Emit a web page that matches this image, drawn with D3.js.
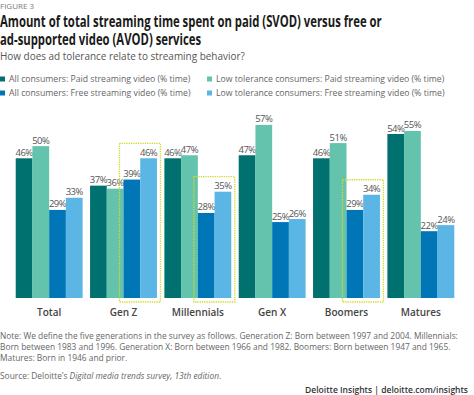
<!DOCTYPE html>
<html>
<head>
<meta charset="utf-8">
<script src="https://cdn.jsdelivr.net/npm/d3@7"></script>
<style>
  body { margin: 0; background: #fff; }
  svg text { font-family: "Open Sans", sans-serif; }
</style>
</head>
<body>
<script>
// data
const categories = ['Total', 'Gen Z', 'Millennials', 'Gen X', 'Boomers', 'Matures'];
const allPaid = [46, 37, 46, 47, 46, 54];
const lowPaid = [50, 36, 47, 57, 51, 55];
const allFree = [29, 39, 28, 25, 29, 22];
const lowFree = [33, 46, 35, 26, 34, 24];
const seriesNames = [
  'All consumers: Paid streaming video (% time)',
  'Low tolerance consumers: Paid streaming video (% time)',
  'All consumers: Free streaming video (% time)',
  'Low tolerance consumers: Free streaming video (% time)',
];
const highlighted = ['Gen Z', 'Millennials', 'Boomers'];

const colors = ['#00716f', '#63c3ad', '#0076b6', '#5bb6e6'];
const series = [allPaid, lowPaid, allFree, lowFree];

const width = 474;
const height = 395;
const svg = d3.select('body').append('svg')
  .attr('width', width)
  .attr('height', height);

// header
svg.append('text')
  .attr('x', 0).attr('y', 9)
  .style('font-size', '8px')
  .style('fill', '#7a7a7a')
  .text('FIGURE 3');

// title: the source font is condensed, so squeeze the text horizontally
const titleG = svg.append('g');
const title = titleG.append('text')
  .style('font-size', '15.5px')
  .style('font-weight', 'bold')
  .style('fill', '#1a1a1a');
const t1 = title.append('tspan')
  .attr('x', 0).attr('y', 27.5)
  .text('Amount of total streaming time spent on paid (SVOD) versus free or');
title.append('tspan')
  .attr('x', 0).attr('y', 45)
  .text('ad-supported video (AVOD) services');
titleG.attr('transform', `scale(${382 / t1.node().getComputedTextLength()},1)`);

const subG = svg.append('g');
const sub = subG.append('text')
  .attr('x', 0).attr('y', 60)
  .style('font-size', '10.5px')
  .style('fill', '#555')
  .text('How does ad tolerance relate to streaming behavior?');
subG.attr('transform', `scale(${245 / sub.node().getComputedTextLength()},1)`);

// legend
const legendPos = [[0, 79], [207, 79], [0, 93], [207, 93]];
const legend = svg.append('g');
seriesNames.forEach((name, i) => {
  const g = legend.append('g')
    .attr('transform', `translate(${legendPos[i][0]},${legendPos[i][1]})`);
  g.append('rect')
    .attr('x', 0).attr('y', -2.5)
    .attr('width', 5).attr('height', 5)
    .attr('fill', colors[i]);
  g.append('text')
    .attr('x', 9).attr('y', 3.2)
    .style('font-size', '8.7px')
    .style('fill', '#666')
    .text(name);
});

// scales
const x = d3.scaleBand()
  .domain(categories)
  .range([12, 458])
  .paddingInner(0.1)
  .paddingOuter(0.05);

const x1 = d3.scaleBand()
  .domain(d3.range(series.length))
  .range([0, x.bandwidth()]);

const y = d3.scaleLinear()
  .domain([0, 60])
  .range([298, 298 - 60 * 3.037]);

// bars
const groups = svg.append('g').selectAll('g')
  .data(categories)
  .join('g')
  .attr('transform', d => `translate(${x(d)},0)`);

groups.each(function (cat, ci) {
  const g = d3.select(this);
  series.forEach((s, si) => {
    g.append('rect')
      .attr('x', x1(si))
      .attr('y', y(s[ci]))
      .attr('width', x1.bandwidth())
      .attr('height', y(0) - y(s[ci]))
      .attr('fill', colors[si]);
    g.append('text')
      .attr('x', x1(si) + x1.bandwidth() / 2)
      .attr('y', y(s[ci]) - 2.5)
      .attr('text-anchor', 'middle')
      .style('font-size', '9.5px')
      .style('letter-spacing', '-0.5px')
      .style('fill', '#555')
      .text(`${s[ci]}%`);
  });
});

// dotted highlight boxes around free streaming bars
highlighted.forEach((cat) => {
  const ci = categories.indexOf(cat);
  const top = Math.max(allFree[ci], lowFree[ci]);
  const bx = x(cat) + x1(2) - 4;
  const bw = x1.bandwidth() * 2 + 7.5;
  const by = y(top) - 15;
  svg.append('rect')
    .attr('x', bx)
    .attr('y', by)
    .attr('width', bw)
    .attr('height', y(0) + 4 - by)
    .attr('fill', 'none')
    .attr('stroke', '#d2d92a')
    .attr('stroke-width', 1.3)
    .attr('stroke-dasharray', '1.3,1');
});

// x axis labels
const xAxis = svg.append('g')
  .attr('transform', 'translate(0,298)')
  .call(d3.axisBottom(x).tickSize(0).tickPadding(11));
xAxis.select('.domain').remove();
xAxis.selectAll('text')
  .style('font-family', '"Open Sans", sans-serif')
  .style('font-size', '10px')
  .style('font-weight', '600')
  .style('fill', '#444');

// notes
const notes = [
  'Note: We define the five generations in the survey as follows. Generation Z: Born between 1997 and 2004. Millennials:',
  'Born between 1983 and 1996. Generation X: Born between 1966 and 1982. Boomers: Born between 1947 and 1965.',
  'Matures: Born in 1946 and prior.',
];
notes.forEach((line, i) => {
  svg.append('text')
    .attr('x', 0).attr('y', 339 + i * 11)
    .style('font-size', '8.4px')
    .style('fill', '#666')
    .text(line);
});

const source = svg.append('text')
  .attr('x', 0).attr('y', 379)
  .style('font-size', '8.4px')
  .style('fill', '#666');
source.append('tspan').text('Source: Deloitte\u2019s ');
source.append('tspan').style('font-style', 'italic').text('Digital media trends survey, 13th edition');
source.append('tspan').text('.');

svg.append('text')
  .attr('x', 468).attr('y', 393)
  .attr('text-anchor', 'end')
  .style('font-size', '8.5px')
  .style('font-weight', '600')
  .style('fill', '#333')
  .text('Deloitte Insights | deloitte.com/insights');
</script>
</body>
</html>
